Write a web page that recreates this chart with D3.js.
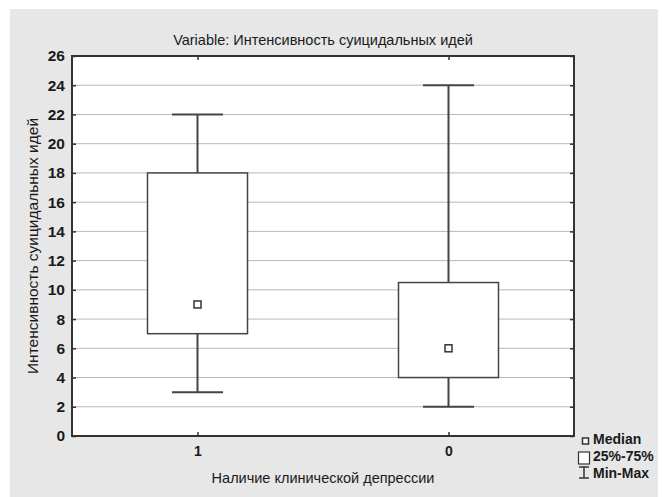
<!DOCTYPE html>
<html>
<head>
<meta charset="utf-8">
<script src="https://cdn.jsdelivr.net/npm/d3@7"></script>
<style>
  body { margin: 0; background: #fff; }
  text { font-family: "Liberation Sans", Arial, sans-serif; fill: #1a1a1a; }
</style>
</head>
<body>
<svg id="chart" width="662" height="497"></svg>
<script>
const categories = ["1", "0"];
const mins    = [3, 2];
const q1s     = [7, 4];
const medians = [9, 6];
const q3s     = [18, 10.5];
const maxs    = [22, 24];
const yTicks  = d3.range(0, 27, 2);
const legendLabels = ["Median", "25%-75%", "Min-Max"];

const margin = {left: 72, top: 56, right: 88, bottom: 61};
const W = 662, H = 497;
const width = W - margin.left - margin.right;
const height = H - margin.top - margin.bottom;

const svg = d3.select("#chart");

// gray panel
svg.append("rect")
  .attr("x", 10).attr("y", 9)
  .attr("width", 648).attr("height", 488)
  .attr("fill", "#e7e7e7");

const g = svg.append("g")
  .attr("transform", `translate(${margin.left},${margin.top})`);

const x = d3.scalePoint().domain(categories).range([0, width]).padding(0.5);
const y = d3.scaleLinear().domain([0, 26]).range([height, 0]);

g.append("rect")
  .attr("width", width).attr("height", height)
  .attr("fill", "#fff");

// grid
g.selectAll(".grid")
  .data(yTicks.filter(d => d > 0 && d < 26))
  .enter().append("line")
  .attr("x1", 0).attr("x2", width)
  .attr("y1", d => y(d)).attr("y2", d => y(d))
  .attr("stroke", "#b8b8b8").attr("stroke-width", 1);

// y axis left
const yAxis = g.append("g")
  .call(d3.axisLeft(y).tickValues(yTicks).tickSize(-4).tickPadding(7));
yAxis.select(".domain").remove();
yAxis.selectAll("line").attr("stroke", "#333").attr("stroke-width", 1.5);
yAxis.selectAll("text")
  .style("font-family", "'Liberation Sans', Arial, sans-serif")
  .style("font-size", "15.5px").style("font-weight", "bold").attr("fill", "#222");

// y axis right ticks
const yAxisR = g.append("g")
  .attr("transform", `translate(${width},0)`)
  .call(d3.axisRight(y).tickValues(yTicks).tickSize(-4).tickFormat(""));
yAxisR.select(".domain").remove();
yAxisR.selectAll("line").attr("stroke", "#333").attr("stroke-width", 1.5);

// x axis bottom
const xAxis = g.append("g")
  .attr("transform", `translate(0,${height})`)
  .call(d3.axisBottom(x).tickSize(-4).tickPadding(10));
xAxis.select(".domain").remove();
xAxis.selectAll("line").attr("stroke", "#333").attr("stroke-width", 1.5);
xAxis.selectAll("text")
  .style("font-family", "'Liberation Sans', Arial, sans-serif")
  .style("font-size", "14px").style("font-weight", "bold").attr("fill", "#222");

// x axis top ticks
const xAxisT = g.append("g")
  .call(d3.axisTop(x).tickSize(-4).tickFormat(""));
xAxisT.select(".domain").remove();
xAxisT.selectAll("line").attr("stroke", "#333").attr("stroke-width", 1.5);

// frame
g.append("rect")
  .attr("width", width).attr("height", height)
  .attr("fill", "none").attr("stroke", "#333").attr("stroke-width", 2);

const boxW = 100, capW = 51, medS = 7;
const data = categories.map((c, i) => ({c, min: mins[i], q1: q1s[i], med: medians[i], q3: q3s[i], max: maxs[i]}));

const box = g.selectAll(".box").data(data).enter().append("g");

box.append("line")
  .attr("x1", d => x(d.c)).attr("x2", d => x(d.c))
  .attr("y1", d => y(d.max)).attr("y2", d => y(d.min))
  .attr("stroke", "#444").attr("stroke-width", 2);
box.append("rect")
  .attr("x", d => x(d.c) - boxW / 2).attr("width", boxW)
  .attr("y", d => y(d.q3)).attr("height", d => y(d.q1) - y(d.q3))
  .attr("fill", "#fff").attr("stroke", "#444").attr("stroke-width", 1.5);
box.selectAll(".cap").data(d => [d.min, d.max].map(v => ({c: d.c, v})))
  .enter().append("line")
  .attr("x1", d => x(d.c) - capW / 2).attr("x2", d => x(d.c) + capW / 2)
  .attr("y1", d => y(d.v)).attr("y2", d => y(d.v))
  .attr("stroke", "#444").attr("stroke-width", 2);
box.append("rect")
  .attr("x", d => x(d.c) - medS / 2).attr("y", d => y(d.med) - medS / 2)
  .attr("width", medS).attr("height", medS)
  .attr("fill", "#fff").attr("stroke", "#333").attr("stroke-width", 1.5);

// title
svg.append("text")
  .attr("x", margin.left + width / 2).attr("y", 45)
  .attr("text-anchor", "middle")
  .style("font-size", "14.5px")
  .text("Variable: Интенсивность суицидальных идей");

// x title
svg.append("text")
  .attr("x", margin.left + width / 2).attr("y", 483)
  .attr("text-anchor", "middle")
  .style("font-size", "14.5px")
  .text("Наличие клинической депрессии");

// y title
svg.append("text")
  .attr("transform", `translate(38,${margin.top + height / 2}) rotate(-90)`)
  .attr("text-anchor", "middle")
  .style("font-size", "15.5px")
  .text("Интенсивность суицидальных идей");

// legend
const lg = svg.append("g");
const lx = 578;
lg.append("rect").attr("x", lx + 4.5).attr("y", 438).attr("width", 6).attr("height", 6)
  .attr("fill", "#fff").attr("stroke", "#333").attr("stroke-width", 1.5);
lg.append("rect").attr("x", lx + 0.5).attr("y", 452).attr("width", 11).attr("height", 12)
  .attr("fill", "#fff").attr("stroke", "#333").attr("stroke-width", 1.2);
lg.append("line").attr("x1", lx + 6).attr("x2", lx + 6).attr("y1", 467).attr("y2", 478)
  .attr("stroke", "#333").attr("stroke-width", 1.5);
lg.append("line").attr("x1", lx + 1).attr("x2", lx + 11).attr("y1", 467).attr("y2", 467)
  .attr("stroke", "#333").attr("stroke-width", 1.5);
lg.append("line").attr("x1", lx + 1).attr("x2", lx + 11).attr("y1", 478).attr("y2", 478)
  .attr("stroke", "#333").attr("stroke-width", 1.5);
lg.selectAll(".lt").data(legendLabels).enter().append("text")
  .attr("x", lx + 15).attr("y", (d, i) => 444 + i * 17)
  .style("font-family", "'Liberation Sans', Arial, sans-serif")
  .style("font-size", "14px").style("font-weight", "bold")
  .attr("fill", "#222")
  .text(d => d);
</script>
</body>
</html>
